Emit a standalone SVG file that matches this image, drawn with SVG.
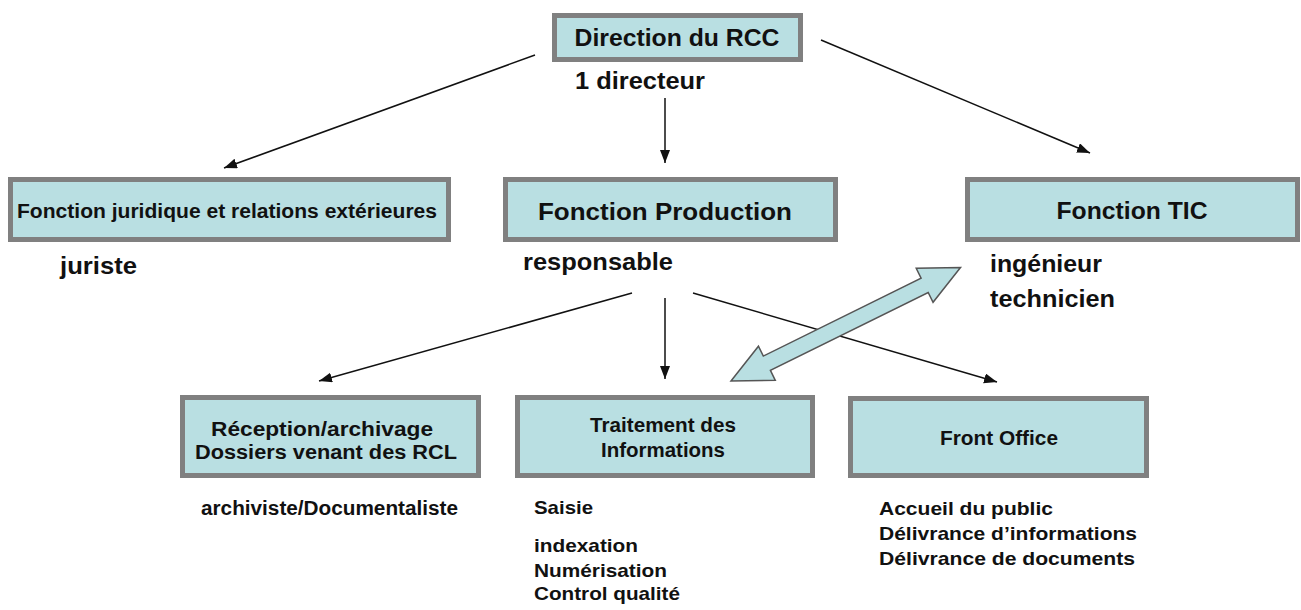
<svg xmlns="http://www.w3.org/2000/svg" width="1301" height="610" viewBox="0 0 1301 610">
<defs>
<style>
.box{fill:#b9dfe2;stroke:#808080;stroke-width:5}
text{font-family:"Liberation Sans",Arial,sans-serif;font-weight:bold;fill:#111}
.c{text-anchor:middle}
.ln{stroke:#111;stroke-width:1.5;fill:none;marker-end:url(#ah)}
.dbl{fill:#b9dfe2;stroke:#555;stroke-width:1.5}
</style>
<marker id="ah" markerUnits="userSpaceOnUse" markerWidth="14" markerHeight="12" refX="13" refY="5" orient="auto">
<path d="M0,0 L13,5 L0,10 Z" fill="#111"/>
</marker>
</defs>
<rect width="1301" height="610" fill="#fff"/>

<g id="connectors">
<line class="ln" x1="535" y1="55" x2="224" y2="168"/>
<line class="ln" x1="665" y1="98" x2="665" y2="163"/>
<line class="ln" x1="821" y1="40" x2="1090" y2="153"/>
<line class="ln" x1="632" y1="293" x2="319" y2="381"/>
<line class="ln" x1="665" y1="298" x2="665" y2="379"/>
<line class="ln" x1="693" y1="293" x2="997" y2="382"/>
<polygon class="dbl" transform="translate(731,381) rotate(-26.3)" points="0,0 40,-19 40,-8 216,-8 216,-19 256,0 216,19 216,8 40,8 40,19"/>
</g>

<g id="direction">
<rect class="box" x="554.5" y="15.5" width="246" height="44"/>
<text x="677" y="46" font-size="23" textLength="205" lengthAdjust="spacingAndGlyphs" class="c">Direction du RCC</text>
<text x="575" y="89" font-size="24" textLength="130" lengthAdjust="spacingAndGlyphs">1 directeur</text>
</g>

<g id="juridique">
<rect class="box" x="10.5" y="179.5" width="438" height="60"/>
<text x="227" y="218" font-size="20" textLength="420" lengthAdjust="spacingAndGlyphs" class="c">Fonction juridique et relations extérieures</text>
<text x="60" y="274" font-size="24" textLength="77" lengthAdjust="spacingAndGlyphs">juriste</text>
</g>

<g id="production">
<rect class="box" x="505.5" y="179.5" width="330" height="60"/>
<text x="665" y="220" font-size="24" textLength="254" lengthAdjust="spacingAndGlyphs" class="c">Fonction Production</text>
<text x="523" y="270" font-size="24" textLength="150" lengthAdjust="spacingAndGlyphs">responsable</text>
</g>

<g id="tic">
<rect class="box" x="967.5" y="179.5" width="330" height="60"/>
<text x="1132" y="219" font-size="24" textLength="151" lengthAdjust="spacingAndGlyphs" class="c">Fonction TIC</text>
<text x="990" y="272" font-size="24" textLength="112" lengthAdjust="spacingAndGlyphs">ingénieur</text>
<text x="990" y="307" font-size="24" textLength="125" lengthAdjust="spacingAndGlyphs">technicien</text>
</g>

<g id="reception">
<rect class="box" x="182.5" y="397.5" width="296" height="78"/>
<text x="322" y="436" font-size="20" textLength="222" lengthAdjust="spacingAndGlyphs" class="c">Réception/archivage</text>
<text x="326" y="459" font-size="20" textLength="262" lengthAdjust="spacingAndGlyphs" class="c">Dossiers venant des RCL</text>
<text x="201" y="515" font-size="20" textLength="257" lengthAdjust="spacingAndGlyphs">archiviste/Documentaliste</text>
</g>

<g id="traitement">
<rect class="box" x="517.5" y="397.5" width="295" height="78"/>
<text x="663" y="432" font-size="20" textLength="146" lengthAdjust="spacingAndGlyphs" class="c">Traitement des</text>
<text x="663" y="457" font-size="20" textLength="124" lengthAdjust="spacingAndGlyphs" class="c">Informations</text>
<text x="534" y="514" font-size="19" textLength="59" lengthAdjust="spacingAndGlyphs">Saisie</text>
<text x="534" y="552" font-size="19" textLength="104" lengthAdjust="spacingAndGlyphs">indexation</text>
<text x="534" y="577" font-size="19" textLength="133" lengthAdjust="spacingAndGlyphs">Numérisation</text>
<text x="534" y="600" font-size="19" textLength="146" lengthAdjust="spacingAndGlyphs">Control qualité</text>
</g>

<g id="front">
<rect class="box" x="850.5" y="398.5" width="296" height="77"/>
<text x="999" y="445" font-size="20" textLength="118" lengthAdjust="spacingAndGlyphs" class="c">Front Office</text>
<text x="879" y="515" font-size="19" textLength="174" lengthAdjust="spacingAndGlyphs">Accueil du public</text>
<text x="879" y="540" font-size="19" textLength="258" lengthAdjust="spacingAndGlyphs">Délivrance d’informations</text>
<text x="879" y="565" font-size="19" textLength="256" lengthAdjust="spacingAndGlyphs">Délivrance de documents</text>
</g>
</svg>
